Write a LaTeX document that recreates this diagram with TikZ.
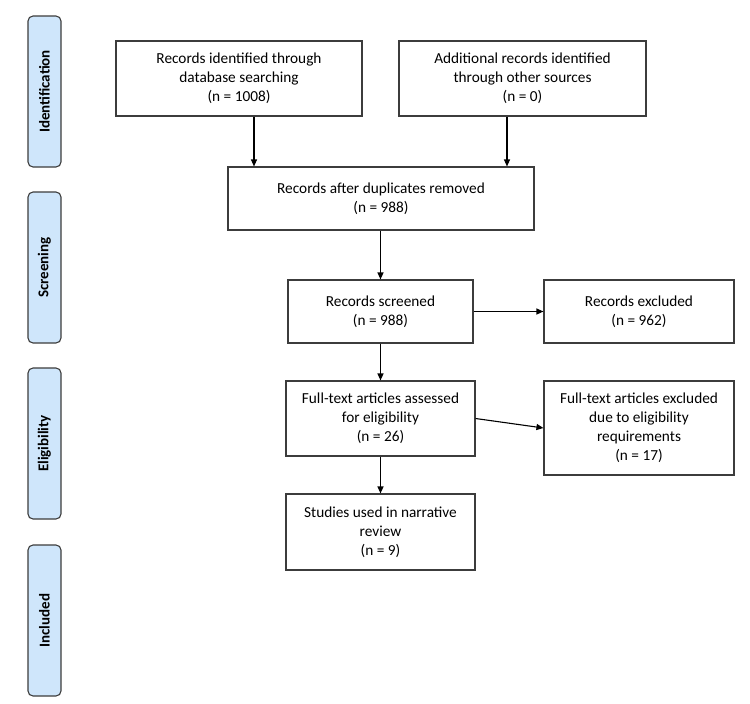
\documentclass[tikz,border=0pt]{standalone}
\usepackage{fontspec}
\setmainfont{Carlito}
\usetikzlibrary{arrows.meta}
\definecolor{sideblue}{HTML}{CFE6FB}
\definecolor{boxline}{HTML}{3C3C3C}
\tikzset{
  flowbox/.style={draw=boxline, line width=1.1pt, align=center, inner sep=2pt,
    font=\fontsize{15.3}{19}\selectfont},
  sidebar/.style={draw=boxline, fill=sideblue, line width=1.1pt, rounded corners=5pt,
    minimum width=33pt, minimum height=151pt, inner sep=0pt},
  sidelabel/.style={rotate=90, font=\bfseries\fontsize{15}{17}\selectfont},
  arr/.style={-{Triangle[length=7pt,width=6pt]}, line width=1.1pt, black}
}
\begin{document}
\begin{tikzpicture}[x=1pt,y=-1pt]
\useasboundingbox (0,0) rectangle (750,704);
% side bars
\node[sidebar] (sid) at (44.5,91.5) {};
\node[sidelabel] (sidl) at (sid.center) {Identification};
\node[sidebar] (sscr) at (44.5,267.5) {};
\node[sidelabel] (sscrl) at (sscr.center) {Screening};
\node[sidebar] (selg) at (44.5,443.5) {};
\node[sidelabel] (selgl) at (selg.center) {Eligibility};
\node[sidebar] (sinc) at (44.5,620.5) {};
\node[sidelabel] (sincl) at (sinc.center) {Included};
% boxes
\node[flowbox, minimum width=246pt, minimum height=75pt] (db) at (239,78.5) {Records identified through\\database searching\\(n = 1008)};
\node[flowbox, minimum width=247pt, minimum height=75pt] (oth) at (522.5,78.5) {Additional records identified\\through other sources\\(n = 0)};
\node[flowbox, minimum width=306pt, minimum height=63pt] (dup) at (381,198.5) {Records after duplicates removed\\(n = 988)};
\node[flowbox, minimum width=185pt, minimum height=63pt] (scr) at (380.5,311.5) {Records screened\\(n = 988)};
\node[flowbox, minimum width=190pt, minimum height=63pt] (exc) at (639,311.5) {Records excluded\\(n = 962)};
\node[flowbox, minimum width=189pt, minimum height=75pt] (ft) at (380.5,418.5) {Full-text articles assessed\\for eligibility\\(n = 26)};
\node[flowbox, minimum width=190pt, minimum height=94pt] (fte) at (639,428) {Full-text articles excluded\\due to eligibility\\requirements\\(n = 17)};
\node[flowbox, minimum width=189pt, minimum height=76pt] (st) at (380.5,532) {Studies used in narrative\\review\\(n = 9)};
% connectors
\coordinate (a1) at (254,0);
\coordinate (a2) at (507,0);
\draw[arr] (db.south -| a1) -- (dup.north -| a1);
\draw[arr] (oth.south -| a2) -- (dup.north -| a2);
\draw[arr] (dup.south -| scr.north) -- (scr.north);
\draw[arr] (scr.east) -- (exc.west);
\draw[arr] (scr.south) -- (ft.north);
\draw[arr] (ft.east) -- (fte.west);
\draw[arr] (ft.south) -- (st.north);
\end{tikzpicture}
\end{document}
